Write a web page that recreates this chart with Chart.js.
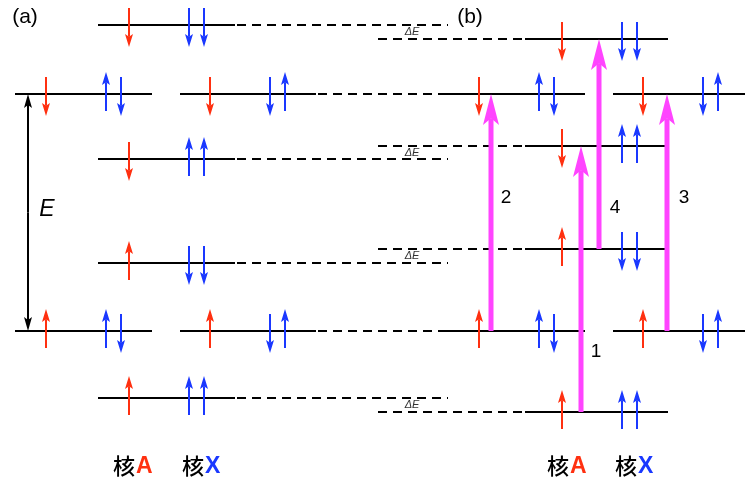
<!DOCTYPE html>
<html>
<head>
<meta charset="utf-8">
<script src="https://cdn.jsdelivr.net/npm/chart.js@4.4.1/dist/chart.umd.min.js"></script>
<style>
  html, body { margin: 0; padding: 0; background: #fff; }
  #wrap { width: 745px; height: 480px; }
</style>
</head>
<body>
<div id="wrap"><canvas id="levels" width="745" height="480"></canvas></div>
<script>
// energies on the y axis (0 = bottom of figure, 480 = top)
const pairLevels = [386, 149];              // levels drawn as two halves
const levelsA = [455, 321, 217, 82];        // (a) single levels
const levelsB = [441, 334, 231, 68];        // (b) single levels
const spinA = ['down', 'down', 'up', 'up'];
const spinX = [['down', 'down'], ['up', 'up'], ['down', 'down'], ['up', 'up']];
const pairSpinA = ['down', 'up'];
const pairSpinXLeft = [['up', 'down'], ['up', 'down']];
const pairSpinXRight = [['down', 'up'], ['down', 'up']];

// transitions in (b)
const transLabels = ['1', '2', '3', '4'];
const transFrom = [68, 149, 149, 231];
const transTo = [334, 386, 386, 441];
const transLabelE = [128, 282, 282, 272];

const nuclei = ['A', 'X'];

// layout (x in axis units, same 0..745 range as the canvas)
const RED = '#ff3010', BLUE = '#1a38ff', MAGENTA = '#ff44ff';
const segs = {
  aSingle: { x: [98, 235], spins: [129, 189, 204] },
  aPairL: { x: [15, 152], spins: [46, 106, 121] },
  aPairR: { x: [180, 316], spins: [210, 270, 285] },
  bPairL: { x: [443, 585], spins: [479, 539, 554] },
  bPairR: { x: [613, 745], spins: [643, 703, 718] },
  bSingle: { x: [525, 668], spins: [562, 622, 637] }
};
const dashA = [237, 448], dashPair = [318, 443], dashB = [378, 523];
const transX = [581, 491, 667, 599];
const labelOffset = [15, 15, 17, 16];
const nucleusLabelX = [[113, 182], [547, 615]];

const datasets = [];
function addLine(x, e, dashed) {
  datasets.push({
    data: [{ x: x[0], y: e }, { x: x[1], y: e }],
    showLine: true,
    borderColor: '#000',
    borderWidth: 2,
    borderDash: dashed ? [9, 6] : [],
    pointRadius: 0,
    borderCapStyle: 'butt'
  });
}
levelsA.forEach(e => { addLine(segs.aSingle.x, e); addLine(dashA, e, true); });
levelsB.forEach(e => { addLine(segs.bSingle.x, e); addLine(dashB, e, true); });
pairLevels.forEach(e => {
  addLine(segs.aPairL.x, e);
  addLine(segs.aPairR.x, e);
  addLine(dashPair, e, true);
  addLine(segs.bPairL.x, e);
  addLine(segs.bPairR.x, e);
});

function arrow(ctx, x, y0, y1, color, shaft, headW, headL) {
  const dir = Math.sign(y1 - y0);
  const yb = y1 - dir * headL;
  const notch = yb + dir * headL * 0.22;
  ctx.strokeStyle = color;
  ctx.fillStyle = color;
  ctx.lineWidth = shaft;
  ctx.lineCap = 'butt';
  ctx.setLineDash([]);
  ctx.beginPath();
  ctx.moveTo(x, y0);
  ctx.lineTo(x, notch);
  ctx.stroke();
  ctx.beginPath();
  ctx.moveTo(x, y1);
  ctx.lineTo(x + headW / 2, yb);
  ctx.lineTo(x, notch);
  ctx.lineTo(x - headW / 2, yb);
  ctx.closePath();
  ctx.fill();
}

function spin(ctx, x, yPix, s, color) {
  if (s === 'up') arrow(ctx, x, yPix + 17, yPix - 22, color, 2, 8, 13);
  else arrow(ctx, x, yPix - 17, yPix + 22, color, 2, 8, 13);
}

const decorations = {
  id: 'decorations',
  afterDatasetsDraw(chart) {
    const ctx = chart.ctx;
    const sx = chart.scales.x, sy = chart.scales.y;
    const px = v => sx.getPixelForValue(v);
    const py = v => sy.getPixelForValue(v);
    ctx.save();

    function spinsOn(seg, e, a, xs) {
      spin(ctx, px(seg.spins[0]), py(e), a, RED);
      spin(ctx, px(seg.spins[1]), py(e), xs[0], BLUE);
      spin(ctx, px(seg.spins[2]), py(e), xs[1], BLUE);
    }
    levelsA.forEach((e, i) => spinsOn(segs.aSingle, e, spinA[i], spinX[i]));
    levelsB.forEach((e, i) => spinsOn(segs.bSingle, e, spinA[i], spinX[i]));
    pairLevels.forEach((e, i) => {
      spinsOn(segs.aPairL, e, pairSpinA[i], pairSpinXLeft[i]);
      spinsOn(segs.aPairR, e, pairSpinA[i], pairSpinXRight[i]);
      spinsOn(segs.bPairL, e, pairSpinA[i], pairSpinXLeft[i]);
      spinsOn(segs.bPairR, e, pairSpinA[i], pairSpinXRight[i]);
    });

    // transitions
    ctx.font = '19px "Liberation Sans", Arial, sans-serif';
    ctx.textAlign = 'center';
    ctx.textBaseline = 'middle';
    transLabels.forEach((t, i) => {
      arrow(ctx, px(transX[i]), py(transFrom[i]), py(transTo[i]), MAGENTA, 5, 16, 31);
      ctx.fillStyle = '#000';
      ctx.fillText(t, px(transX[i]) + labelOffset[i], py(transLabelE[i]));
    });

    // energy axis arrow
    const ex = px(28), e0 = py(pairLevels[1]), e1 = py(pairLevels[0]);
    const mid = (e0 + e1) / 2;
    arrow(ctx, ex, mid, e1, '#000', 2, 8, 14);
    arrow(ctx, ex, mid, e0, '#000', 2, 8, 14);
    ctx.fillStyle = '#000';
    ctx.font = 'italic 23px "Liberation Sans", Arial, sans-serif';
    ctx.fillText('E', px(47), py(270));

    // ΔE labels between (a) and (b) levels
    ctx.font = 'italic 11px "Liberation Sans", Arial, sans-serif';
    ctx.fillStyle = '#333';
    levelsA.forEach((e, i) => ctx.fillText('ΔE', px(412), py((e + levelsB[i]) / 2)));

    // panel labels
    ctx.fillStyle = '#000';
    ctx.font = '21px "Liberation Sans", Arial, sans-serif';
    ctx.fillText('(a)', px(25), py(463));
    ctx.fillText('(b)', px(470), py(463));

    // nucleus labels
    ctx.textAlign = 'left';
    nucleusLabelX.forEach(row => {
      row.forEach((x, j) => {
        ctx.font = '500 22px "Noto Sans CJK JP", sans-serif';
        ctx.fillStyle = '#000';
        ctx.fillText('核', px(x), py(14));
        const w = ctx.measureText('核').width;
        ctx.font = 'bold 23px "Liberation Sans", Arial, sans-serif';
        ctx.fillStyle = j === 0 ? RED : BLUE;
        ctx.fillText(nuclei[j], px(x) + w + 1, py(13));
      });
    });
    ctx.restore();
  }
};

new Chart(document.getElementById('levels'), {
  type: 'scatter',
  data: { datasets: datasets },
  options: {
    responsive: false,
    animation: false,
    layout: { padding: 0 },
    plugins: { legend: { display: false }, tooltip: { enabled: false } },
    scales: {
      x: { type: 'linear', min: 0, max: 745, display: false },
      y: { type: 'linear', min: 0, max: 480, display: false }
    }
  },
  plugins: [decorations]
});
</script>
</body>
</html>
